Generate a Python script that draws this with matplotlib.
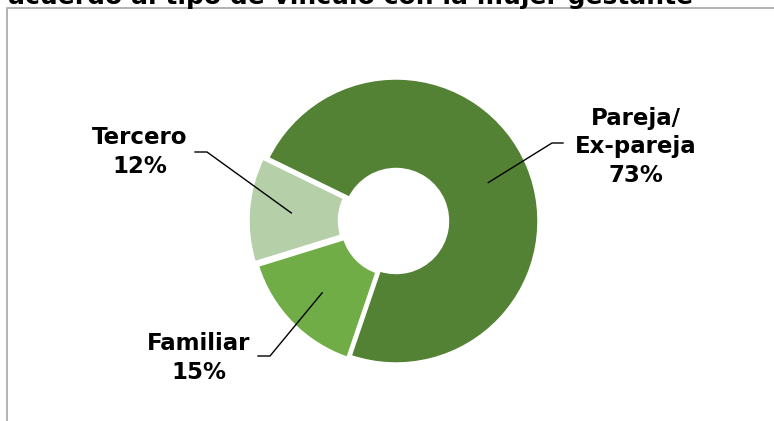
import numpy as np
import matplotlib.pyplot as plt
from matplotlib.lines import Line2D

labels = ["Pareja/\nEx-pareja", "Tercero", "Familiar"]
values = [73, 12, 15]
colors = ["#548235", "#b5cfa8", "#70ad47"]

W, H = 774, 421
fig = plt.figure(figsize=(W / 100, H / 100), dpi=100)
ax = fig.add_axes([0, 0, 1, 1])

cx, cy, R = 396, H - 221, 143
wedges, _ = ax.pie(values, center=(cx, cy), radius=R, startangle=251.2,
                   counterclock=True, colors=colors, explode=[0, 5, 3],
                   wedgeprops=dict(width=R * 0.64, edgecolor="white", linewidth=2.5))

ax.set_xlim(0, W)
ax.set_ylim(0, H)
ax.set_aspect("equal")
ax.axis("off")

# chart area border, only left and top edges are inside the picture
bx, by = 6.5 / W, 1 - 7.5 / H
fig.lines.append(Line2D([bx, bx, 1.01], [-0.01, by, by], transform=fig.transFigure,
                        color="#a6a6a6", linewidth=1.2))

font = dict(family="DejaVu Sans", weight="bold", color="black")
fig.text(351 / W, 1 - 4.3 / H, "acuerdo al tipo de vínculo con la mujer gestante",
         ha="center", va="baseline", fontsize=18, **font)

# label text position, elbow start, elbow end (pixels)
label_pos = [(636, 147), (140, 152), (199, 358)]
elbows = [((563, 143), (552, 143)), ((195, 152), (207, 152)), ((258, 356), (270, 356))]

for w, lab, v, (tx, ty), (p0, p1) in zip(wedges, labels, values, label_pos, elbows):
    mid = np.deg2rad((w.theta1 + w.theta2) / 2)
    ex = w.center[0] + 100 * np.cos(mid)
    ey = w.center[1] + 100 * np.sin(mid)
    ax.plot([p0[0], p1[0], ex], [H - p0[1], H - p1[1], ey], color="black", lw=1)
    ax.text(tx, H - ty, f"{lab}\n{v}%", ha="center", va="center",
            fontsize=16.5, linespacing=1.3, **font)

fig.savefig("out.png", dpi=100)
